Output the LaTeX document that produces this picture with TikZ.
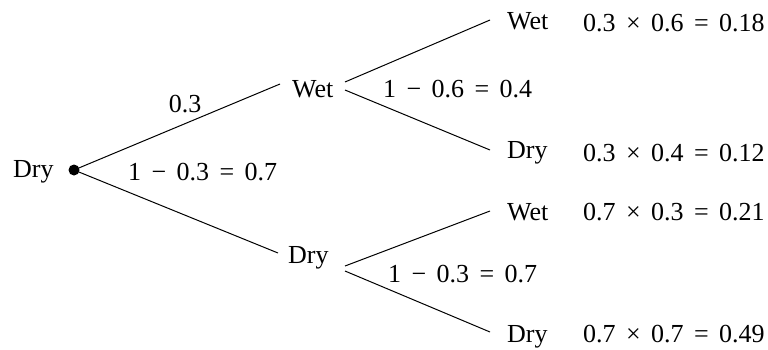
\documentclass[tikz,border=0pt]{standalone}
\usepackage{fontspec}
\setmainfont{Liberation Serif}
\newcommand\gp{\hspace{0.4em}}
\begin{document}
\begin{tikzpicture}[x=1pt,y=-1pt,
  lbl/.style={anchor=base west,inner sep=0pt,font=\fontsize{26}{30}\selectfont},
  br/.style={line width=1pt}]
\useasboundingbox (0,0) rectangle (768,349);
% nodes
\node[lbl] (rootlbl) at (13,177) {Dry};
\fill (74,170) circle (5.5) coordinate (root);
\node[lbl,anchor=base] (p1) at (185,112) {0.3};
\node[lbl] (p2) at (128,180) {1\gp−\gp0.3\gp=\gp0.7};
\node[lbl] (wet1) at (292,97) {Wet};
\node[lbl] (dry1) at (288,263) {Dry};
\node[lbl] (p3) at (383,97) {1\gp−\gp0.6\gp=\gp0.4};
\node[lbl] (p4) at (388,282) {1\gp−\gp0.3\gp=\gp0.7};
\node[lbl] (ww) at (507,29) {Wet};
\node[lbl] (wd) at (507,158) {Dry};
\node[lbl] (dw) at (507,220) {Wet};
\node[lbl] (dd) at (507,342) {Dry};
\node[lbl] (r1) at (583,31) {0.3\gp×\gp0.6\gp=\gp0.18};
\node[lbl] (r2) at (583,161) {0.3\gp×\gp0.4\gp=\gp0.12};
\node[lbl] (r3) at (583,220) {0.7\gp×\gp0.3\gp=\gp0.21};
\node[lbl] (r4) at (583,342) {0.7\gp×\gp0.7\gp=\gp0.49};
% connector end points
\coordinate (wet1in) at (280,84);
\coordinate (dry1in) at (278,253);
\coordinate (wet1a) at (345,82);
\coordinate (wet1b) at (345,90);
\coordinate (dry1a) at (345,266);
\coordinate (dry1b) at (345,271);
\coordinate (wwin) at (490,20);
\coordinate (wdin) at (490,150);
\coordinate (dwin) at (490,211);
\coordinate (ddin) at (490,332);
% branches
\draw[br] (root) -- (wet1in);
\draw[br] (root) -- (dry1in);
\draw[br] (wet1a) -- (wwin);
\draw[br] (wet1b) -- (wdin);
\draw[br] (dry1a) -- (dwin);
\draw[br] (dry1b) -- (ddin);
\end{tikzpicture}
\end{document}
